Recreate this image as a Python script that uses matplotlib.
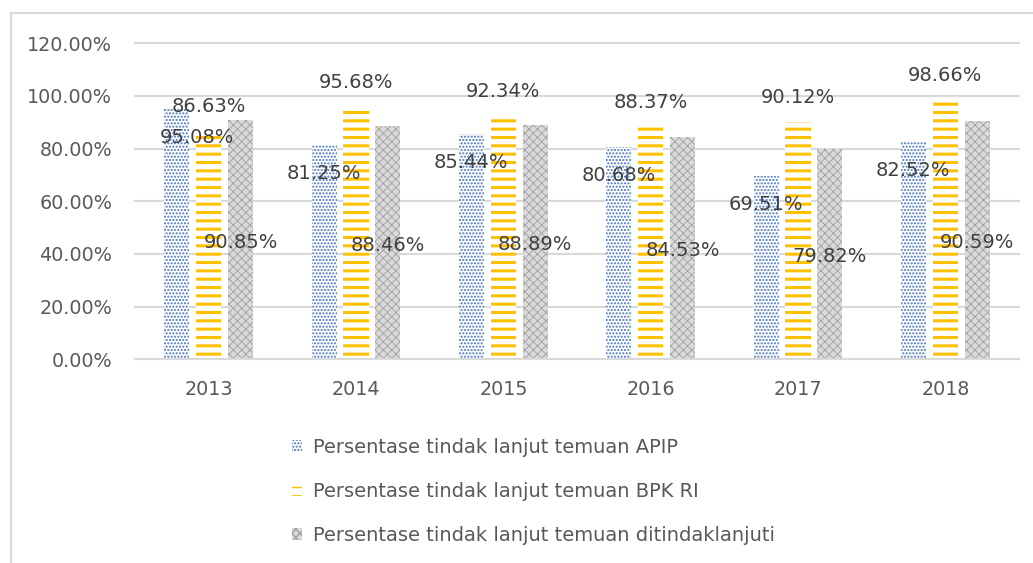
import matplotlib
matplotlib.use("Agg")
import matplotlib.pyplot as plt
import numpy as np
from matplotlib.lines import Line2D

years = ["2013", "2014", "2015", "2016", "2017", "2018"]
apip = [95.08, 81.25, 85.44, 80.68, 69.51, 82.52]
bpk = [86.63, 95.68, 92.34, 88.37, 90.12, 98.66]
tl = [90.85, 88.46, 88.89, 84.53, 79.82, 90.59]
series_names = ["Persentase tindak lanjut temuan APIP",
                "Persentase tindak lanjut temuan BPK RI",
                "Persentase tindak lanjut temuan ditindaklanjuti"]
yticks = [0, 20, 40, 60, 80, 100, 120]

plt.rcParams['font.family'] = ['DejaVu Sans']
TXT = '#595959'
LBL = '#404040'
GRID = '#D9D9D9'

fig = plt.figure(figsize=(10.33, 5.63), dpi=100)
ax = fig.add_axes([135/1033, 1-359.3/563, (1019-135)/1033, (359.3-43.3)/563])

x = np.arange(len(years))
w = 0.17
d = 0.217

styles = [
    dict(face='white', edge='#4472C4', hatch='.....', hlw=1.0),
    dict(face='white', edge='#FFC000', hatch='--', hlw=2.2),
    dict(face='#DADADA', edge='#A0A0A0', hatch='xxxx', hlw=0.6),
]
handles = []
for i, (vals, st) in enumerate(zip([apip, bpk, tl], styles)):
    with plt.rc_context({'hatch.linewidth': st['hlw']}):
        bars = ax.bar(x + (i-1)*d, vals, width=w, color=st['face'],
                      edgecolor=st['edge'], hatch=st['hatch'], linewidth=0, zorder=2)
        for b in bars:
            if hasattr(b, 'set_hatch_linewidth'):
                b.set_hatch_linewidth(st['hlw'])
    handles.append(bars)

# data labels
nudge = {(0, 0): 0.136}
fs = 14
for j in range(len(years)):
    ax.text(x[j] - d + nudge.get((0, j), 0), apip[j] - 10.8, f"{apip[j]:.2f}%",
            ha='center', va='center', fontsize=fs, color=LBL, zorder=3)
    ax.text(x[j], bpk[j] + 9.3, f"{bpk[j]:.2f}%",
            ha='center', va='center', fontsize=fs, color=LBL, zorder=3)
    ax.text(x[j] + d, tl[j]/2 - 1.0, f"{tl[j]:.2f}%",
            ha='center', va='center', fontsize=fs, color=LBL, zorder=3)

ax.set_xlim(-0.5, len(years)-0.5)
ax.set_ylim(0, 120)
ax.set_yticks(yticks)
ax.set_yticklabels([f"{v:.2f}%" for v in yticks])
ax.set_xticks(x)
ax.set_xticklabels(years)
ax.tick_params(axis='both', length=0, labelsize=13.8, colors=TXT)
ax.tick_params(axis='y', pad=16.5)
ax.tick_params(axis='x', pad=15)
ax.yaxis.grid(True, color=GRID, linewidth=1.5, zorder=0)
for gl in ax.yaxis.get_gridlines():
    gl.set_clip_on(False)
ax.set_axisbelow(True)
for s in ['top', 'right', 'left']:
    ax.spines[s].set_visible(False)
ax.spines['bottom'].set_color(GRID)
ax.spines['bottom'].set_linewidth(1.5)

leg = fig.legend(handles, series_names, loc='upper left',
                 bbox_to_anchor=(284/1033, 1-430/563), frameon=False,
                 fontsize=14, labelcolor=TXT, handlelength=0.55, handleheight=0.6,
                 handletextpad=0.55, labelspacing=1.28, borderaxespad=0)

# outer chart border
fig.add_artist(Line2D([11/1033, 1], [1-13/563, 1-13/563], color=GRID, linewidth=1.5))
fig.add_artist(Line2D([11/1033, 11/1033], [0, 1-13/563], color=GRID, linewidth=1.5))

fig.savefig('out.png', dpi=100)
